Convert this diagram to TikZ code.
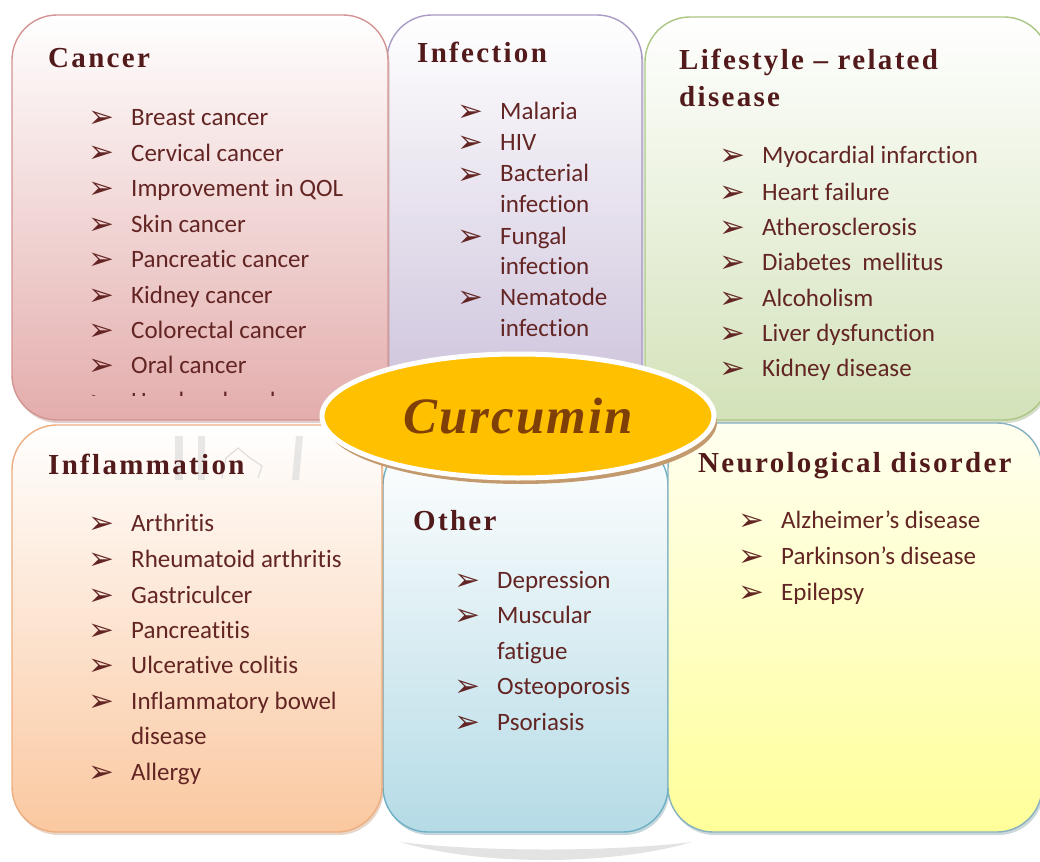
\documentclass[tikz,border=0pt]{standalone}
\usepackage{fontspec}
\setmainfont{Carlito}[Ligatures=NoCommon]
\newfontfamily\headfont[LetterSpace=8]{Liberation Serif}
\newfontfamily\curfont[LetterSpace=4]{Liberation Serif}
\newfontfamily\symfont{DejaVu Sans}
\usetikzlibrary{shadows,shapes.geometric}
\definecolor{txt}{HTML}{632523}
\definecolor{headc}{HTML}{521A1A}
\definecolor{curtxt}{HTML}{7E4007}
\definecolor{curfill}{HTML}{FFC000}
\definecolor{curshadow}{HTML}{C39A6E}
\definecolor{cancf}{HTML}{E3ADAC}
\definecolor{cancd}{HTML}{D39593}
\definecolor{inff}{HTML}{CBC0DA}
\definecolor{infd}{HTML}{A99BC5}
\definecolor{lifef}{HTML}{D3E2B9}
\definecolor{lifed}{HTML}{ABC683}
\definecolor{inflf}{HTML}{FAC8A0}
\definecolor{infld}{HTML}{EDAE80}
\definecolor{othf}{HTML}{B5DBE6}
\definecolor{othd}{HTML}{6FB1C4}
\definecolor{neuf}{HTML}{FFFF99}
\definecolor{neud}{HTML}{86B1C0}
\newcommand\bitem[4]{\node[bul] (#1b) at (#2-43,#3+2) {➢}; \node[item] (#1) at (#2,#3) {#4};}
\newcommand\citem[4]{\node[item] (#1) at (#2,#3) {#4};}
\begin{document}
\begin{tikzpicture}[x=1pt,y=-1pt,
 box/.style={rounded corners=45pt, line width=1.4pt, inner sep=0pt},
 head/.style={anchor=base west, inner sep=0pt, text=headc, font=\headfont\bfseries\fontsize{29}{31}\selectfont},
 item/.style={anchor=base west, inner sep=0pt, text=txt, font=\fontsize{25}{28}\selectfont},
 bul/.style={anchor=base west, inner sep=0pt, text=txt, font=\symfont\bfseries\fontsize{31}{33}\selectfont},
 wm/.style={fill=gray!30, opacity=0.6}]
\useasboundingbox (0,0) rectangle (1040,861);
\fill[white] (0,0) rectangle (1040,861);
% faint watermark crescent at bottom
\fill[gray!22] (400,842) .. controls (480,866) and (610,866) .. (692,842)
   .. controls (610,852) and (480,852) .. (400,842) -- cycle;
% boxes
\node[box, draw=infd, top color=white, bottom color=inff, minimum width=255pt, minimum height=405pt,
  drop shadow={shadow xshift=1.5pt, shadow yshift=-3pt, fill=infd!80!black, opacity=0.35}] (infbox) at (514.5,217.5) {};
\node[box, draw=cancd, top color=white, bottom color=cancf, minimum width=376pt, minimum height=405pt,
  drop shadow={shadow xshift=1.5pt, shadow yshift=-3pt, fill=cancd!80!black, opacity=0.35}] (cancbox) at (200,217.5) {};
\node[box, draw=lifed, top color=white, bottom color=lifef, minimum width=404pt, minimum height=403pt,
  drop shadow={shadow xshift=1.5pt, shadow yshift=-3pt, fill=lifed!80!black, opacity=0.35}] (lifebox) at (847,218.5) {};
\node[box, draw=othd, top color=white, bottom color=othf, minimum width=285pt, minimum height=392pt,
  drop shadow={shadow xshift=1.5pt, shadow yshift=-3pt, fill=othd!80!black, opacity=0.35}] (othbox) at (525.5,636) {};
\node[box, draw=infld, top color=white, bottom color=inflf, minimum width=370pt, minimum height=407pt,
  drop shadow={shadow xshift=1.5pt, shadow yshift=-3pt, fill=infld!80!black, opacity=0.35}] (inflbox) at (197,628.5) {};
\node[box, draw=neud, top color=neuf!15!white, bottom color=neuf, minimum width=374pt, minimum height=409pt,
  drop shadow={shadow xshift=1.5pt, shadow yshift=-3pt, fill=neud!80!black, opacity=0.35}] (neubox) at (855,627.5) {};
% watermark marks behind Inflammation heading
\fill[wm] (175,436) rectangle (183,480);
\fill[wm] (198,436) rectangle (205,480);
\fill[wm] (296,436) -- (303,436) -- (299,480) -- (292,480) -- cycle;
\draw[gray!35, line width=1.2pt, opacity=0.7] (222,478) -- (226,458) -- (238,448) -- (250,458) -- (262,466) -- (258,478);
% headings
\node[head] (hcanc) at (48,68) {Cancer};
\node[head] (hinf) at (417,63) {Infection};
\node[head] (hlife1) at (679,70) {Lifestyle – related};
\node[head] (hlife2) at (679,107) {disease};
\node[head] (hinfl) at (48,474) {Inflammation};
\node[head] (hoth) at (413,530) {Other};
\node[head] (hneu) at (698,472) {Neurological disorder};
% cancer
\bitem{c1}{131}{126}{Breast cancer}
\bitem{c2}{131}{161}{Cervical cancer}
\bitem{c3}{131}{196}{Improvement in QOL}
\bitem{c4}{131}{232}{Skin cancer}
\bitem{c5}{131}{267}{Pancreatic cancer}
\bitem{c6}{131}{303}{Kidney cancer}
\bitem{c7}{131}{338}{Colorectal cancer}
\bitem{c8}{131}{373}{Oral cancer}
\begin{scope}
\clip (60,380) rectangle (380,395.5);
\bitem{c9}{131}{409}{Head and neck cancer}
\end{scope}
% infection
\bitem{i1}{500}{120}{Malaria}
\bitem{i2}{500}{151}{HIV}
\bitem{i3}{500}{182}{Bacterial}
\citem{i3c}{500}{212}{infection}
\bitem{i4}{500}{244}{Fungal}
\citem{i4c}{500}{274}{infection}
\bitem{i5}{500}{305}{Nematode}
\citem{i5c}{500}{336}{infection}
% lifestyle
\bitem{l1}{762}{164}{Myocardial infarction}
\bitem{l2}{762}{200}{Heart failure}
\bitem{l3}{762}{235}{Atherosclerosis}
\bitem{l4}{762}{270}{Diabetes\ \ mellitus}
\bitem{l5}{762}{306}{Alcoholism}
\bitem{l6}{762}{341}{Liver dysfunction}
\bitem{l7}{762}{376}{Kidney disease}
% inflammation
\bitem{f1}{131}{531}{Arthritis}
\bitem{f2}{131}{567}{Rheumatoid arthritis}
\bitem{f3}{131}{603}{Gastriculcer}
\bitem{f4}{131}{638}{Pancreatitis}
\bitem{f5}{131}{673}{Ulcerative colitis}
\bitem{f6}{131}{709}{Inflammatory bowel}
\citem{f6c}{131}{744}{disease}
\bitem{f7}{131}{780}{Allergy}
% other
\bitem{o1}{497}{588}{Depression}
\bitem{o2}{497}{623}{Muscular}
\citem{o2c}{497}{659}{fatigue}
\bitem{o3}{497}{694}{Osteoporosis}
\bitem{o4}{497}{730}{Psoriasis}
% neurological
\bitem{n1}{781}{528}{Alzheimer’s disease}
\bitem{n2}{781}{564}{Parkinson’s disease}
\bitem{n3}{781}{600}{Epilepsy}
% centre ellipse
\node[ellipse, minimum width=392pt, minimum height=124pt, fill=curfill, draw=white, line width=5pt,
  drop shadow={shadow xshift=3pt, shadow yshift=-6pt, fill=curshadow, opacity=1},
  text=curtxt, font=\curfont\bfseries\itshape\fontsize{51}{55}\selectfont] (cur) at (518,416) {Curcumin};
\end{tikzpicture}
\end{document}
